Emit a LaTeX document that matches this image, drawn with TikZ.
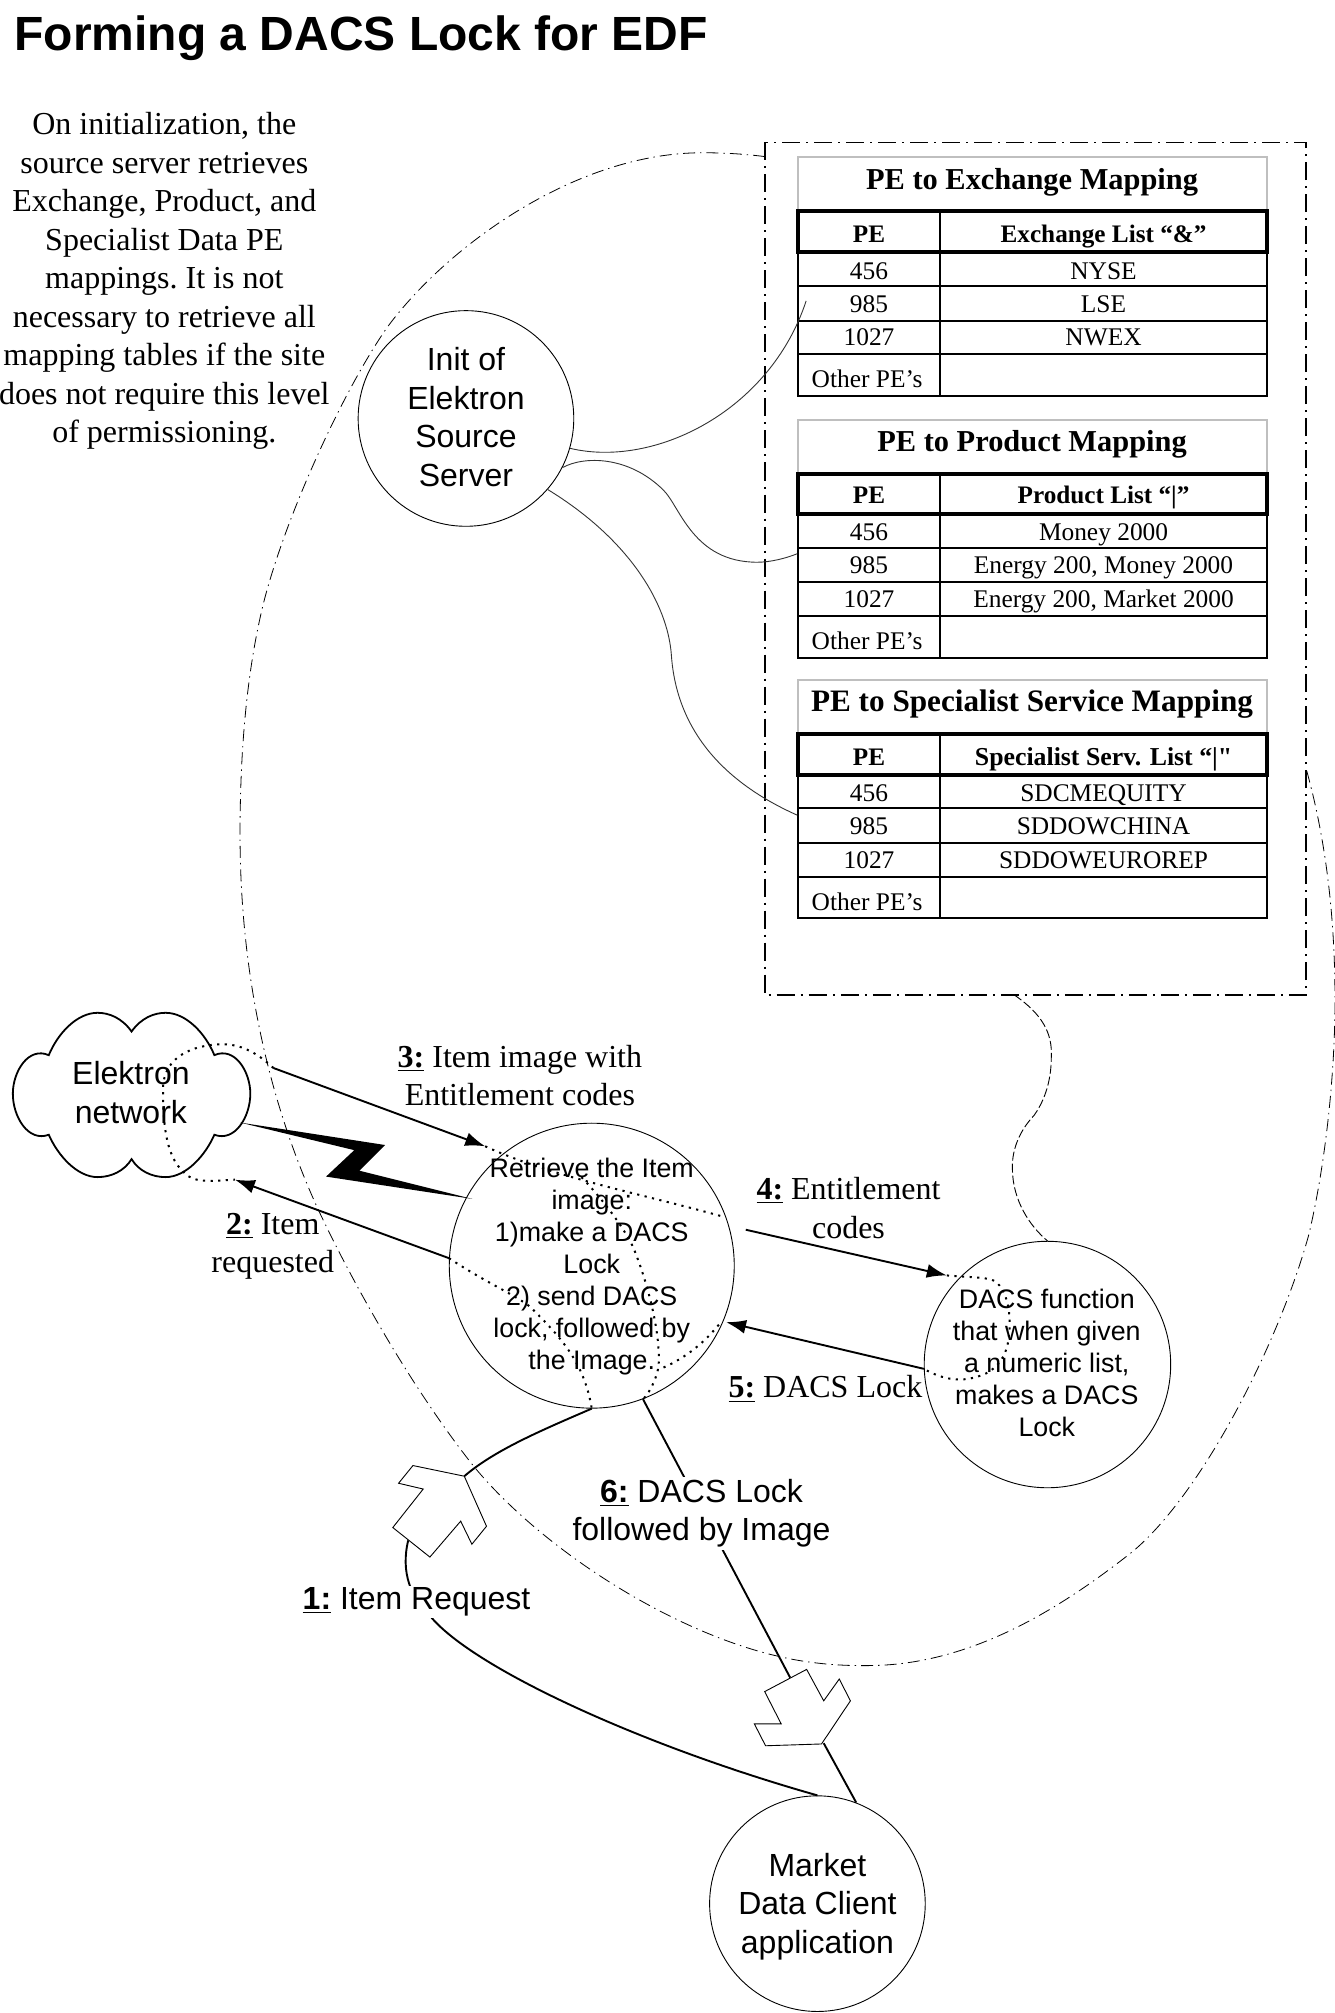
\documentclass[tikz,border=0pt]{standalone}
\usepackage{fontspec}
\usetikzlibrary{arrows.meta}
\setmainfont{Liberation Serif}
\newfontfamily\arialf{Liberation Sans}
\newlength{\uu}\setlength{\uu}{0.6418pt}
\newcommand{\stepn}[1]{\underline{\textbf{#1:}}}
\newcommand{\pegrid}[7]{%
  \draw[titlebox] (621.4,#2) -- (621.4,#1) -- (986.8,#1) -- (986.8,#2);
  \draw[gridline] (621.4,#3) rectangle (986.8,#7);
  \draw[gridline] (732,#2) -- (732,#7);
  \draw[gridline] (621.4,#4) -- (986.8,#4) (621.4,#5) -- (986.8,#5) (621.4,#6) -- (986.8,#6);
  \draw[headline] (621.4,#2) rectangle (986.8,#3);
}
\newcommand{\perow}[4]{%
  \node[cellt,name=#1a] at (677,#2) {#3};
  \node[cellt,name=#1b] at (859.7,#2) {#4};
}
\newcommand{\pehead}[7]{%
  \node[titlet,name=#1t] at (804,#2) {#4};
  \node[headt,name=#1p] at (677,#3) {PE};
  \node[headt,name=#1h] at (859.7,#3) {#5};
  \perow{#1x}{#6}{#7}{}
}
\tikzset{
  x=\uu, y=-\uu,
  circ/.style={draw=black,line width=0.45pt,circle,inner sep=0pt},
  circt/.style={inner sep=0pt,align=center,font=\arialf\fontsize{16}{19.25}\selectfont},
  circts/.style={inner sep=0pt,align=center,font=\arialf\fontsize{13.4}{16}\selectfont},
  timesl/.style={inner sep=0pt,align=center,font=\frenchspacing\fontsize{16}{19.25}\selectfont},
  ariall/.style={inner sep=1pt,align=center,fill=white,font=\arialf\fontsize{16}{19.25}\selectfont},
  cellt/.style={inner sep=0pt,anchor=base,font=\fontsize{12.7}{15}\selectfont},
  titlet/.style={inner sep=0pt,anchor=base,font=\bfseries\fontsize{15.2}{18}\selectfont},
  headt/.style={inner sep=0pt,anchor=base,font=\bfseries\fontsize{12.6}{15}\selectfont},
  titlebox/.style={draw=black!25,line width=1pt},
  gridline/.style={draw=black,line width=1pt},
  headline/.style={draw=black,line width=2pt},
  thinlink/.style={draw=black!80,line width=0.45pt},
  flow/.style={draw=black,line width=0.95pt,-{Latex[length=10pt,width=7pt]}},
  solidlink/.style={draw=black,line width=0.95pt},
  hidden/.style={draw=black,line width=1pt,dash pattern=on 1.1pt off 2.7pt},
  dashbox/.style={draw=black,line width=0.9pt,dash pattern=on 9pt off 3pt on 1pt off 3pt},
  dashbig/.style={draw=black,line width=0.4pt,dash pattern=on 6pt off 2.5pt on 0.7pt off 2.5pt},
  dashlink/.style={draw=black,line width=0.45pt,dash pattern=on 4.5pt off 1.5pt},
  blockarrow/.style={draw=black,line width=0.45pt,fill=white},
}
\begin{document}
\begin{tikzpicture}
\useasboundingbox (0,0) rectangle (1040,1568.2);
\fill[white] (0,0) rectangle (1040,1568.2);

\node[inner sep=0pt,anchor=base west,font=\arialf\bfseries\fontsize{24}{28}\selectfont] (title) at (11,39) {Forming a DACS Lock for EDF};
\node[timesl] (intro) at (128,219) {On initialization, the\\source server retrieves\\Exchange, Product, and\\Specialist Data PE\\mappings. It is not\\necessary to retrieve all\\mapping tables if the site\\does not require this level\\of permissioning.};

% large enclosing curve
\draw[dashbig] (596,122) .. controls (580,120) and (565,119) .. (547,119)
  .. controls (450,119) and (350,190) .. (302,254.5)
  .. controls (270,300) and (225,395) .. (206,467)
  .. controls (190,530) and (187,600) .. (187,650)
  .. controls (187,760) and (210,860) .. (248,942.5)
  .. controls (275,1000) and (320,1080) .. (368,1141)
  .. controls (420,1205) and (520,1270) .. (605,1290)
  .. controls (630,1296) and (655,1298) .. (680,1297.5)
  .. controls (760,1296) and (830,1250) .. (882,1209)
  .. controls (935,1165) and (995,1050) .. (1019.4,962.6)
  .. controls (1032,910) and (1040,840) .. (1040,779)
  .. controls (1040,710) and (1032,650) .. (1017,597);

% mapping box
\draw[dashbox] (596,111) rectangle (1017.5,775);
\coordinate (boxb) at (790,775);

% tables
\pegrid{122.6}{164.7}{196}{222.9}{249.7}{275.7}{308.5}
\pehead{a}{147.8}{188.8}{PE to Exchange Mapping}{Exchange List “\&”}{217.4}{456}
\node[cellt,name=axb] at (859.7,217.4) {NYSE};
\perow{ay}{243.4}{985}{LSE}
\perow{az}{269.4}{1027}{NWEX}
\node[cellt,name=ao] at (675.5,302) {Other PE’s};

\pegrid{327}{369}{400.6}{427}{453.3}{480}{512.6}
\pehead{b}{351.4}{392.4}{PE to Product Mapping}{Product List “|”}{421}{456}
\node[cellt,name=bxb] at (859.7,421) {Money 2000};
\perow{by}{447}{985}{Energy 200, Money 2000}
\perow{bz}{473.5}{1027}{Energy 200, Market 2000}
\node[cellt,name=bo] at (675.5,505.8) {Other PE’s};

\pegrid{529.7}{572}{603.7}{629.7}{656.4}{682.9}{715.3}
\pehead{c}{554.4}{596}{{\fontsize{15.6}{18}\selectfont PE to Specialist Service Mapping}}{{\fontsize{12.9}{15}\selectfont Specialist Serv. List “|\textquotedbl}}{624.5}{456}
\node[cellt,name=cxb] at (859.7,624.5) {SDCMEQUITY};
\perow{cy}{650.4}{985}{SDDOWCHINA}
\perow{cz}{676.4}{1027}{SDDOWEUROREP}
\node[cellt,name=co] at (675.5,709.4) {Other PE’s};

% circles
\node[circ,minimum size=168\uu] (init) at (363,326) {};
\node[circt] (initt) at (363,325) {Init of\\Elektron\\Source\\Server};
\node[circ,minimum size=222\uu] (main) at (461,986) {};
\node[circts] (maint) at (461,987) {Retrieve the Item\\image:\\1)make a DACS\\Lock\\2) send DACS\\lock, followed by\\the Image.};
\node[circ,minimum size=192\uu] (dacs) at (816,1063) {};
\node[circts] (dacst) at (815.5,1062) {DACS function\\that when given\\a numeric list,\\makes a DACS\\Lock};
\node[circ,minimum size=168\uu] (client) at (636.8,1483) {};
\node[circt] (clientt) at (636.8,1485) {Market\\Data Client\\application};

% Elektron cloud
\draw[line width=0.9pt] (102.5,803.6) .. controls (110,793) and (120,789) .. (129,789)
  .. controls (145,789) and (160,805) .. (167,822)
  .. controls (183,815) and (195,835) .. (195,852)
  .. controls (195,870) and (183,890) .. (167,884)
  .. controls (160,900) and (145,917) .. (129,917)
  .. controls (118,917) and (108,912) .. (102.5,903)
  .. controls (97,912) and (87,917) .. (76,917)
  .. controls (60,917) and (45,900) .. (38,884)
  .. controls (22,890) and (10,870) .. (10,852)
  .. controls (10,835) and (22,815) .. (38,822)
  .. controls (45,805) and (60,789) .. (76,789)
  .. controls (85,789) and (95,793) .. (102.5,803.6) -- cycle;
\node[inner sep=0pt,align=center,font=\arialf\fontsize{16}{19.25}\selectfont] (cloud) at (102,851) {Elektron\\network};

% coordinates for free ends
\coordinate (t3) at (213,832);
\coordinate (h3) at (378,893);
\coordinate (h2) at (183,919);
\coordinate (t4) at (581,958);
\coordinate (h4) at (737.6,993.6);
\coordinate (h5) at (565.6,1030);
\coordinate (e1) at (628,234.4);
\coordinate (e2) at (621,431.4);
\coordinate (e3) at (621,635);
\coordinate (ba1a) at (361.7,1150);
\coordinate (ba1b) at (318,1200);
\coordinate (ba2a) at (615.6,1307);
\coordinate (ba2b) at (641.7,1358);

% thin links from the source server
\draw[thinlink] (init.-16.6) .. controls (510,365) and (600,320) .. (e1);
\draw[thinlink] (init.-27.4) .. controls (455,355) and (490,355) .. (517,382)
  .. controls (530,395) and (540,438) .. (590,438) .. controls (600,438) and (612,435) .. (e2);
\draw[thinlink] (init.-41) .. controls (490,420) and (520,470) .. (523,510)
  .. controls (527,570) and (565,610) .. (e3);
\draw[dashlink] (boxb) .. controls (812,790) and (820,805) .. (819,823.5)
  .. controls (819,845) and (812,860) .. (805.5,869)
  .. controls (795,880) and (788,895) .. (788.7,911)
  .. controls (789,935) and (802,955) .. (dacs.90);

% flows
\draw[flow] (t3) -- (h3);
\draw[flow] (main.177) -- (h2);
\draw[flow] (t4) -- (h4);
\draw[flow] (dacs.-178) -- (h5);

% hidden (dotted) continuations
\draw[hidden] (t3) .. controls (195,815) and (180,812) .. (165,814)
  .. controls (140,817) and (127,830) .. (127,848)
  .. controls (127,870) and (128,900) .. (143,913) .. controls (150,922) and (165,920) .. (h2);
\draw[hidden] (h3) .. controls (430,917) and (500,930) .. (564,948);
\draw[hidden] (main.177) .. controls (380,1000) and (400,1008) .. (413,1018)
  .. controls (435,1040) and (455,1060) .. (main.-90);
\draw[hidden] (453,917) .. controls (470,935) and (485,955) .. (493,971)
  .. controls (505,1000) and (515,1040) .. (513,1065) .. controls (511,1075) and (506,1085) .. (501,1090);
\draw[hidden] (560,1032) .. controls (545,1050) and (530,1060) .. (513,1067);
\draw[hidden] (h4) .. controls (755,995) and (770,995) .. (775,998)
  .. controls (785,1005) and (788,1025) .. (786,1040) .. controls (785,1055) and (778,1065) .. (768,1070)
  .. controls (750,1078) and (735,1075) .. (dacs.-178);

% lightning
\fill[black] (187,874.5) -- (300,892) -- (280,912) -- (368,934) -- (254,916.6) -- (276,896) -- cycle;

% client request curve, and DACS lock delivery
\draw[solidlink] (main.-90) .. controls (420,1115) and (385,1130) .. (ba1a);
\draw[solidlink] (ba1b) .. controls (312,1225) and (320,1245) .. (336,1260)
  .. controls (370,1300) and (500,1360) .. (client.90);
\draw[solidlink] (main.-69.6) -- (ba2a);
\draw[solidlink] (ba2b) -- (client.69.8);

% block arrows
\draw[blockarrow] (321.7,1141.7) -- (ba1a) -- (379,1189) -- (367.6,1203) -- (358.9,1185) -- (334.9,1213) -- (306,1190) -- (329.7,1160) -- (310.5,1155.5) -- cycle;
\draw[blockarrow] (628.4,1300.5) -- (641.7,1325) -- (653.8,1308) -- (662.5,1325) -- (640,1358.6) -- (596.4,1360) -- (587.7,1343) -- (608.6,1343) -- (595.7,1317.8) -- cycle;

% labels
\node[timesl] (l3) at (405,838) {\stepn{3} Item image with\\Entitlement codes};
\node[timesl] (l2) at (212.5,971) {\stepn{2} Item\\requested};
\node[timesl] (l4) at (661,941) {\stepn{4} Entitlement\\codes};
\node[timesl] (l5) at (643,1082) {\stepn{5} DACS Lock};
\node[ariall] (l6) at (546.5,1179) {\stepn{6} DACS Lock\\followed by Image};
\node[ariall] (l1) at (324.5,1248) {\stepn{1} Item Request};
\end{tikzpicture}
\end{document}
